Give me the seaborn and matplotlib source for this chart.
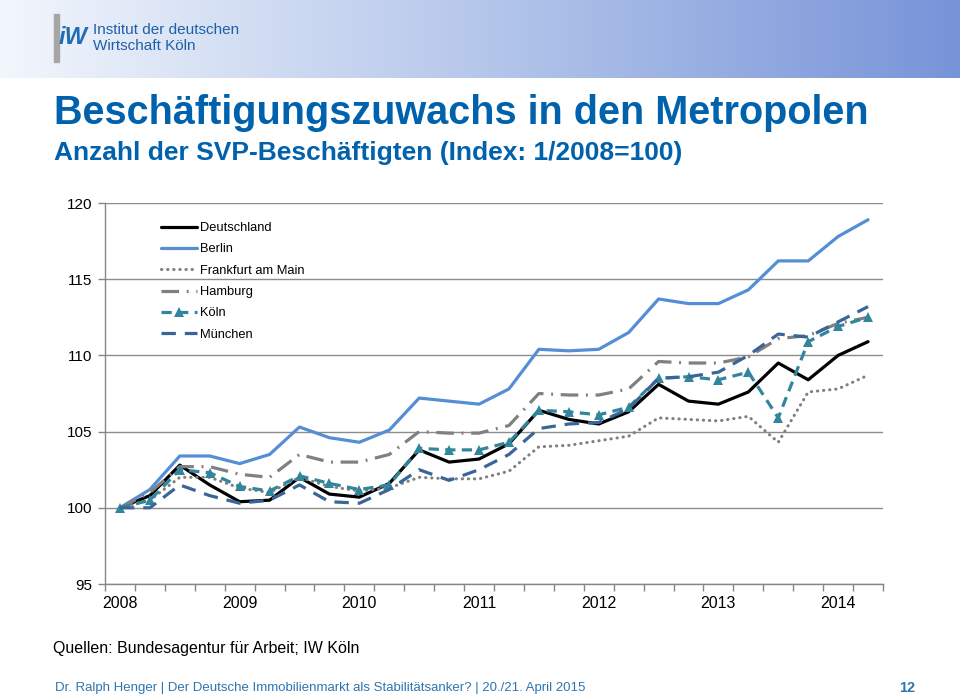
import numpy as np
import pandas as pd
import matplotlib
matplotlib.use("Agg")
import matplotlib.pyplot as plt
import seaborn as sns

# ---------------- data ----------------
quarters = list(range(26))  # 2008 Q1 ... 2014 Q2
year_labels = ["2008", "2009", "2010", "2011", "2012", "2013", "2014"]
year_positions = [0, 4, 8, 12, 16, 20, 24]
y_ticks = [95, 100, 105, 110, 115, 120]

deutschland = [100.0, 100.8, 102.8, 101.5, 100.4, 100.5, 102.0, 100.9, 100.7, 101.6,
               103.8, 103.0, 103.2, 104.2, 106.4, 105.8, 105.5, 106.3, 108.1, 107.0,
               106.8, 107.6, 109.5, 108.4, 110.0, 110.9]
berlin = [100.0, 101.2, 103.4, 103.4, 102.9, 103.5, 105.3, 104.6, 104.3, 105.1,
          107.2, 107.0, 106.8, 107.8, 110.4, 110.3, 110.4, 111.5, 113.7, 113.4,
          113.4, 114.3, 116.2, 116.2, 117.8, 118.9]
frankfurt = [100.0, 100.5, 102.0, 102.0, 101.3, 101.0, 102.0, 101.4, 101.1, 101.3,
             102.0, 101.9, 101.9, 102.4, 104.0, 104.1, 104.4, 104.7, 105.9, 105.8,
             105.7, 106.0, 104.3, 107.6, 107.8, 108.7]
hamburg = [100.0, 101.0, 102.7, 102.7, 102.2, 102.0, 103.5, 103.0, 103.0, 103.5,
           105.0, 104.9, 104.9, 105.4, 107.5, 107.4, 107.4, 107.8, 109.6, 109.5,
           109.5, 109.9, 111.1, 111.3, 112.1, 112.5]
koeln = [100.0, 100.5, 102.5, 102.3, 101.4, 101.1, 102.1, 101.6, 101.2, 101.5,
         103.9, 103.8, 103.8, 104.3, 106.4, 106.3, 106.1, 106.6, 108.5, 108.6,
         108.4, 108.9, 105.9, 110.9, 111.9, 112.5]
muenchen = [100.0, 100.0, 101.5, 100.8, 100.3, 100.5, 101.5, 100.4, 100.3, 101.2,
            102.5, 101.8, 102.5, 103.5, 105.2, 105.5, 105.6, 106.5, 108.5, 108.6,
            108.9, 110.0, 111.4, 111.2, 112.2, 113.2]

series_names = ["Deutschland", "Berlin", "Frankfurt am Main", "Hamburg", "Köln", "München"]
series_values = [deutschland, berlin, frankfurt, hamburg, koeln, muenchen]

# ---------------- styles ----------------
styles = {
    "Deutschland": dict(color="#000000", linewidth=2.3, linestyle="-"),
    "Berlin": dict(color="#558ED5", linewidth=2.3, linestyle="-"),
    "Frankfurt am Main": dict(color="#7F7F7F", linewidth=2.2, linestyle=(0, (0.1, 1.9)),
                              dash_capstyle="round"),
    "Hamburg": dict(color="#808080", linewidth=2.3, linestyle=(0, (5.5, 2.4, 0.6, 2.4))),
    "Köln": dict(color="#31859C", linewidth=2.3, linestyle=(0, (3.2, 2.0)),
                 marker="^", markersize=7, markeredgewidth=0),
    "München": dict(color="#3A6598", linewidth=2.3, linestyle=(0, (4.5, 2.8))),
}

sns.set_theme(style="white")
plt.rcParams["font.family"] = ["Liberation Sans", "DejaVu Sans"]

fig = plt.figure(figsize=(9.6, 6.96), dpi=100)

# ---------------- header band ----------------
hax = fig.add_axes([0, 1 - 78 / 696, 1, 78 / 696])
grad = np.linspace(0, 1, 512)
c_left = np.array([0.95, 0.965, 0.99])
c_mid = np.array([0.71, 0.78, 0.92])
c_right = np.array([0.47, 0.58, 0.85])
cols = np.where(grad[:, None] < 0.5,
                c_left + (c_mid - c_left) * (grad[:, None] / 0.5),
                c_mid + (c_right - c_mid) * ((grad[:, None] - 0.5) / 0.5))
hax.imshow(cols[None, :, :], aspect="auto", extent=[0, 1, 0, 1])
hax.set_axis_off()

# logo approximation
fig.patches.append(plt.Rectangle((54 / 960, 1 - 62 / 696), 5 / 960, 48 / 696,
                                 transform=fig.transFigure, color="#A6A6A6", zorder=5))
fig.text(59 / 960, 1 - 38 / 696, "iW", color="#1F6EB5", fontsize=17, fontweight="bold",
         style="italic", va="center", ha="left", zorder=6)
narrow = ["Liberation Sans Narrow", "Liberation Sans", "DejaVu Sans"]
fig.text(93 / 960, 1 - 30 / 696, "Institut der deutschen", color="#1F5FA8",
         fontsize=11, va="center", ha="left", family=narrow)
fig.text(93 / 960, 1 - 46 / 696, "Wirtschaft Köln", color="#1F5FA8",
         fontsize=11, va="center", ha="left", family=narrow)

# ---------------- titles ----------------
title_color = "#0062AC"
fig.text(54 / 960, 1 - 113 / 696, "Beschäftigungszuwachs in den Metropolen",
         color=title_color, fontsize=28.5, fontweight="bold", va="center", ha="left")
fig.text(54 / 960, 1 - 153 / 696, "Anzahl der SVP-Beschäftigten (Index: 1/2008=100)",
         color=title_color, fontsize=19, fontweight="bold", va="center", ha="left")

# ---------------- chart ----------------
ax = fig.add_axes([105 / 960, 112 / 696, 778 / 960, 381 / 696])
for name, vals in zip(series_names, series_values):
    st = dict(styles[name])
    sns.lineplot(x=quarters, y=vals, ax=ax, label=name, **st)

ax.set_xlim(-0.5, 25.5)
ax.set_ylim(95, 120)
ax.set_yticks(y_ticks)
ax.set_yticklabels([str(t) for t in y_ticks])
ax.set_xticks(year_positions)
ax.set_xticklabels(year_labels)
ax.set_xticks(np.arange(-0.5, 26, 1), minor=True)
ax.tick_params(axis="x", which="major", length=0, pad=9, labelsize=11.5, labelcolor="#000000")
ax.tick_params(axis="x", which="minor", length=5, width=1, color="#868686", direction="out",
               bottom=True)
ax.tick_params(axis="y", which="major", length=5, width=1, color="#868686", direction="out",
               left=True, labelsize=11, labelcolor="#000000", pad=4)
ax.grid(axis="y", color="#8C8C8C", linewidth=1)
ax.grid(axis="x", visible=False)
ax.set_axisbelow(True)
for side in ["top", "right"]:
    ax.spines[side].set_visible(False)
for side in ["left", "bottom"]:
    ax.spines[side].set_visible(True)
    ax.spines[side].set_color("#868686")
    ax.spines[side].set_linewidth(1)
ax.set_xlabel("")
ax.set_ylabel("")
ax.set_facecolor("none")

leg = ax.legend(loc="upper left", bbox_to_anchor=(161 / 960, 1 - 222 / 696),
                bbox_transform=fig.transFigure, frameon=False, fontsize=9.3,
                handlelength=2.8, handletextpad=0.25, labelspacing=0.72,
                borderpad=0, borderaxespad=0)
for t in leg.get_texts():
    t.set_color("#000000")

# ---------------- footer ----------------
fig.text(53 / 960, 1 - 648 / 696, "Quellen: Bundesagentur für Arbeit; IW Köln",
         color="#000000", fontsize=11.5, va="center", ha="left", family=narrow)
fig.text(55 / 960, 1 - 688 / 696,
         "Dr. Ralph Henger | Der Deutsche Immobilienmarkt als Stabilitätsanker? | 20./21. April 2015",
         color="#2E75B0", fontsize=9.5, va="center", ha="left", family=narrow)
fig.text(915 / 960, 1 - 688 / 696, "12", color="#2E75B0", fontsize=10.5,
         fontweight="bold", va="center", ha="right", family=narrow)

fig.savefig("out.png", dpi=100)
